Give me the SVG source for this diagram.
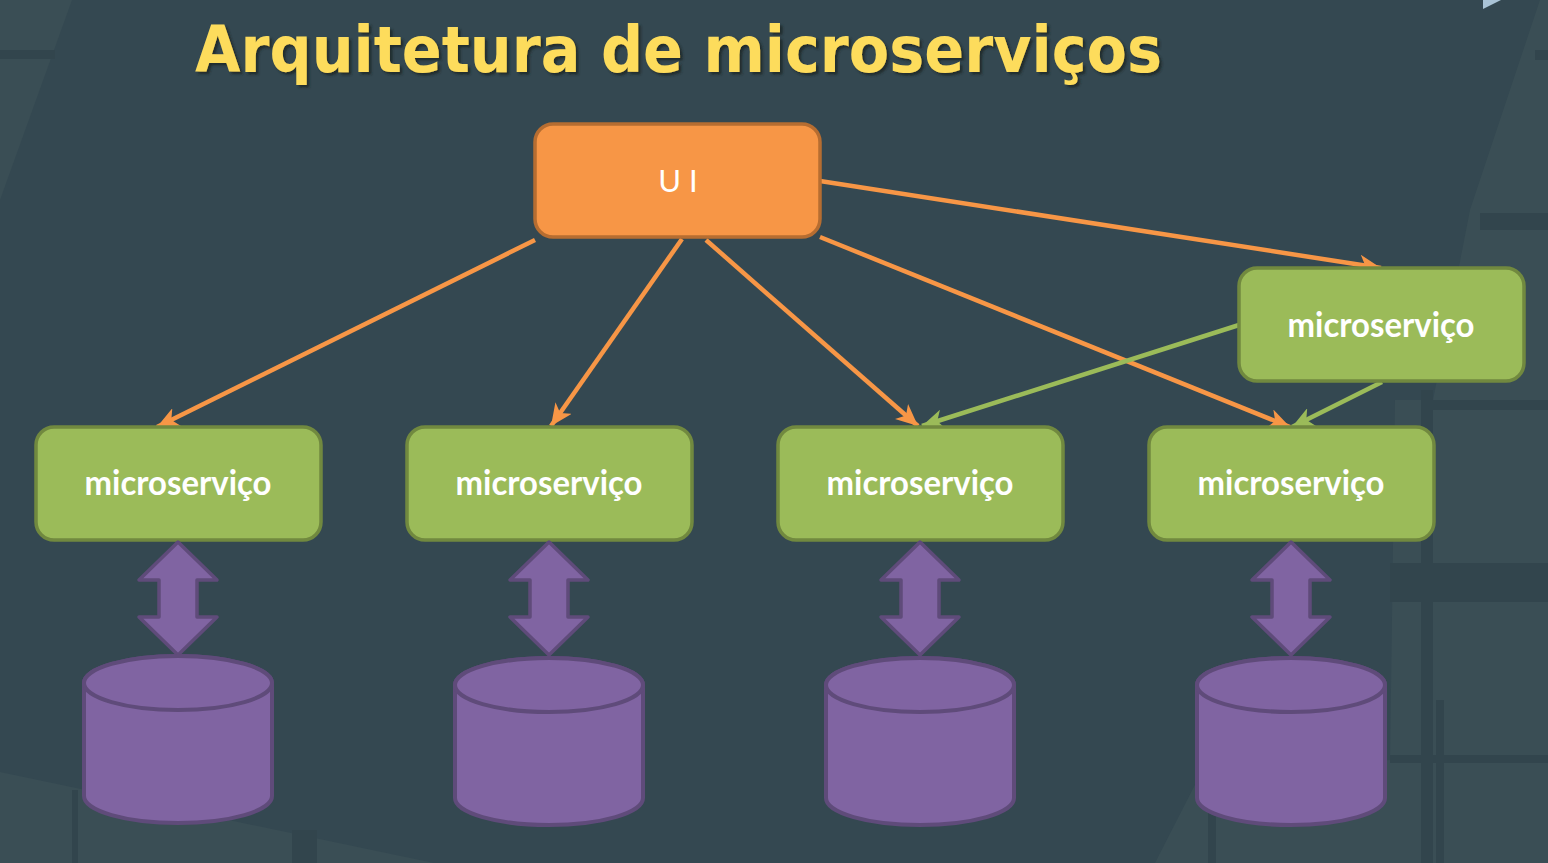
<svg xmlns="http://www.w3.org/2000/svg" width="1548" height="863" viewBox="0 0 1548 863">
<defs>
<style>
.bgp{fill:#3a4e55}
.bgl{fill:#32454d}
.ms rect{fill:#9bbb59;stroke:#71893f;stroke-width:3.5}
.ms text{fill:#ffffff;font-family:Lato,"Open Sans","DejaVu Sans",sans-serif;font-weight:700;font-size:34px;text-anchor:middle}
.dbl{fill:#8064a2;stroke:#5f4b7a;stroke-width:3.5;stroke-linejoin:round}
.cyl path,.cyl ellipse{fill:#8064a2;stroke:#5f4b7a;stroke-width:4}
.co{stroke:#f79646;stroke-width:4.5;fill:none;marker-end:url(#ao)}
.cg{stroke:#9bbb59;stroke-width:4.5;fill:none;marker-end:url(#ag)}
</style>
<marker id="ao" markerUnits="userSpaceOnUse" markerWidth="24" markerHeight="20" refX="22" refY="10" orient="auto">
<path d="M0,0 L22,10 L0,20 L6,10 Z" fill="#f79646"/>
</marker>
<marker id="ag" markerUnits="userSpaceOnUse" markerWidth="24" markerHeight="20" refX="22" refY="10" orient="auto">
<path d="M0,0 L22,10 L0,20 L6,10 Z" fill="#9bbb59"/>
</marker>
<filter id="sh" x="-5%" y="-20%" width="110%" height="150%">
<feDropShadow dx="2.5" dy="2.5" stdDeviation="1" flood-color="#1a252a" flood-opacity="0.9"/>
</filter>
</defs>

<g id="background">
<rect x="0" y="0" width="1548" height="863" fill="#344851"/>
<polygon class="bgp" points="0,0 72,0 0,200"/>
<rect class="bgl" x="0" y="50" width="55" height="9"/>
<polygon class="bgp" points="0,772 434,863 0,863"/>
<rect class="bgl" x="72" y="790" width="6" height="73"/>
<rect class="bgl" x="292" y="830" width="25" height="33"/>
<polygon class="bgp" points="1470,210 1540,0 1548,0 1548,863 1155,863 1200,775 1390,760 1395,400 1433,400"/>
<rect class="bgl" x="1421" y="390" width="12" height="473"/>
<rect class="bgl" x="1390" y="563" width="158" height="39"/>
<rect class="bgl" x="1390" y="755" width="158" height="8"/>
<rect class="bgl" x="1433" y="400" width="115" height="10"/>
<rect class="bgl" x="1480" y="213" width="68" height="17"/>
<rect class="bgl" x="1535" y="50" width="13" height="10"/>
<rect class="bgl" x="1208" y="790" width="8" height="73"/>
<rect class="bgl" x="1436" y="700" width="8" height="163"/>
<polygon points="1483,0 1501,0 1483,9" fill="#a9c3d6"/>
</g>

<text id="title" x="195" y="72" font-family="'DejaVu Sans',Verdana,sans-serif" font-weight="700" font-size="64" fill="#fddc5c" textLength="967" lengthAdjust="spacingAndGlyphs" filter="url(#sh)">Arquitetura de microserviços</text>

<g id="connectors">
<line class="co" x1="535" y1="240" x2="157" y2="427"/>
<line class="co" x1="682" y1="239" x2="551" y2="426"/>
<line class="co" x1="706" y1="240" x2="918" y2="426"/>
<line class="co" x1="820" y1="237" x2="1290" y2="427"/>
<line class="co" x1="820" y1="181" x2="1381" y2="268"/>
<line class="cg" x1="1239" y1="325" x2="922" y2="426"/>
<line class="cg" x1="1382" y1="382" x2="1292" y2="427"/>
</g>

<g id="ui">
<rect x="535" y="124" width="285" height="113" rx="18" fill="#f79646" stroke="#b66d31" stroke-width="3.5"/>
<text x="678" y="192" fill="#ffffff" font-family="Lato,'Open Sans',sans-serif" font-weight="400" font-size="31" text-anchor="middle">U I</text>
</g>

<g id="ms-top" class="ms">
<rect x="1239" y="268" width="285" height="113" rx="18"/>
<text x="1381" y="337" textLength="187" lengthAdjust="spacingAndGlyphs">microserviço</text>
</g>
<g id="ms1" class="ms">
<rect x="36" y="427" width="285" height="113" rx="18"/>
<text x="178" y="495" textLength="187" lengthAdjust="spacingAndGlyphs">microserviço</text>
</g>
<g id="ms2" class="ms">
<rect x="407" y="427" width="285" height="113" rx="18"/>
<text x="549" y="495" textLength="187" lengthAdjust="spacingAndGlyphs">microserviço</text>
</g>
<g id="ms3" class="ms">
<rect x="778" y="427" width="285" height="113" rx="18"/>
<text x="920" y="495" textLength="187" lengthAdjust="spacingAndGlyphs">microserviço</text>
</g>
<g id="ms4" class="ms">
<rect x="1149" y="427" width="285" height="113" rx="18"/>
<text x="1291" y="495" textLength="187" lengthAdjust="spacingAndGlyphs">microserviço</text>
</g>

<g id="link1"><path class="dbl" d="M178,542 L217,580 L197,580 L197,617 L217,617 L178,655 L139,617 L159,617 L159,580 L139,580 Z"/></g>
<g id="link2"><path class="dbl" d="M549,542 L588,580 L568,580 L568,617 L588,617 L549,655 L510,617 L530,617 L530,580 L510,580 Z"/></g>
<g id="link3"><path class="dbl" d="M920,542 L959,580 L939,580 L939,617 L959,617 L920,655 L881,617 L901,617 L901,580 L881,580 Z"/></g>
<g id="link4"><path class="dbl" d="M1291,542 L1330,580 L1310,580 L1310,617 L1330,617 L1291,655 L1252,617 L1272,617 L1272,580 L1252,580 Z"/></g>

<g id="db1" class="cyl">
<path d="M84,683 A94,27 0 0 1 272,683 V796 A94,27 0 0 1 84,796 Z"/>
<ellipse cx="178" cy="683" rx="94" ry="27"/>
</g>
<g id="db2" class="cyl">
<path d="M455,685 A94,27 0 0 1 643,685 V798 A94,27 0 0 1 455,798 Z"/>
<ellipse cx="549" cy="685" rx="94" ry="27"/>
</g>
<g id="db3" class="cyl">
<path d="M826,685 A94,27 0 0 1 1014,685 V798 A94,27 0 0 1 826,798 Z"/>
<ellipse cx="920" cy="685" rx="94" ry="27"/>
</g>
<g id="db4" class="cyl">
<path d="M1197,685 A94,27 0 0 1 1385,685 V798 A94,27 0 0 1 1197,798 Z"/>
<ellipse cx="1291" cy="685" rx="94" ry="27"/>
</g>
</svg>
